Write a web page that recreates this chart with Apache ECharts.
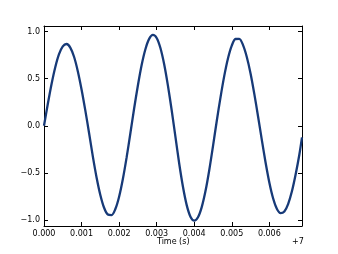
<!DOCTYPE html>
<html><head><meta charset="utf-8">
<script src="https://cdn.jsdelivr.net/npm/echarts@6/dist/echarts.min.js"></script>
<style>html,body{margin:0;padding:0;background:#fff;}#c{width:338px;height:254px;}</style>
</head><body><div id="c"></div>
<script>
// Time offsets (s, relative to +7) and signal values
const times = [0.0000,0.0001,0.0002,0.0003,0.0004,0.0005,0.0006,0.0007,0.0008,0.0009,
  0.0010,0.0011,0.0012,0.0013,0.0014,0.0015,0.0016,0.0017,0.0018,0.0019,
  0.0020,0.0021,0.0022,0.0023,0.0024,0.0025,0.0026,0.0027,0.0028,0.0029,
  0.0030,0.0031,0.0032,0.0033,0.0034,0.0035,0.0036,0.0037,0.0038,0.0039,
  0.0040,0.0041,0.0042,0.0043,0.0044,0.0045,0.0046,0.0047,0.0048,0.0049,
  0.0050,0.0051,0.0052,0.0053,0.0054,0.0055,0.0056,0.0057,0.0058,0.0059,
  0.0060,0.0061,0.0062,0.0063,0.0064,0.0065,0.0066,0.0067,0.0068,0.00687];
const amplitude = [0.000,0.228,0.441,0.622,0.760,0.844,0.869,0.831,0.733,0.580,
  0.386,0.164,-0.077,-0.325,-0.549,-0.735,-0.871,-0.943,-0.949,-0.885,
  -0.754,-0.566,-0.336,-0.080,0.183,0.428,0.645,0.813,0.923,0.965,
  0.933,0.826,0.653,0.426,0.165,-0.118,-0.401,-0.648,-0.843,-0.966,
  -1.008,-0.972,-0.864,-0.694,-0.472,-0.216,0.051,0.302,0.530,0.718,
  0.852,0.922,0.923,0.857,0.731,0.556,0.339,0.099,-0.150,-0.390,
  -0.602,-0.770,-0.882,-0.929,-0.911,-0.832,-0.699,-0.518,-0.305,-0.124];
const xTickStep = 0.001;
const yTicks = [-1.0,-0.5,0.0,0.5,1.0];
const xLabel = 'Time (s)';
const offsetText = '+7';

const font = 'DejaVu Sans';
const chart = echarts.init(document.getElementById('c'), null, {renderer:'canvas'});
const minus = s => s.replace('-', '\u2212');
const axisLine = {show:true, onZero:false, lineStyle:{color:'#000', width:1}};
const tick = {show:true, inside:true, length:4, lineStyle:{color:'#000', width:1}};
const yMin = -1.065, yMax = 1.06, xMax = 0.00687;
chart.setOption({
  animation:false,
  grid:{left:44, right:36, top:26, bottom:28, containLabel:false},
  xAxis:[{
    type:'value', min:0, max:xMax, interval:xTickStep, position:'bottom',
    axisLine, axisTick:tick, splitLine:{show:false},
    axisLabel:{showMaxLabel:false, color:'#000', fontFamily:font, fontSize:8, margin:4,
      formatter:v=>v.toFixed(3)}
  },{
    type:'value', min:0, max:xMax, interval:xTickStep, position:'top',
    axisLine, axisTick:tick, splitLine:{show:false}, axisLabel:{show:false}
  }],
  yAxis:[{
    type:'value', min:yMin, max:yMax, position:'left',
    axisLine, axisTick:{...tick, customValues:yTicks}, splitLine:{show:false},
    axisLabel:{customValues:yTicks, color:'#000', fontFamily:font, fontSize:8, margin:4,
      formatter:v=>minus(v.toFixed(1))}
  },{
    type:'value', min:yMin, max:yMax, position:'right',
    axisLine, axisTick:{...tick, customValues:yTicks}, splitLine:{show:false}, axisLabel:{show:false}
  }],
  series:[{
    type:'line', data:times.map((t,i)=>[t, amplitude[i]]),
    smooth:0.3, showSymbol:false, clip:true,
    lineStyle:{color:'#173a78', width:2.3}
  }],
  graphic:[
    {type:'text', left:157, top:238, style:{text:xLabel, fill:'#000', font:'8px "DejaVu Sans"'}},
    {type:'text', left:292, top:238, style:{text:offsetText, fill:'#000', font:'8px "DejaVu Sans"'}}
  ]
});
</script></body></html>
